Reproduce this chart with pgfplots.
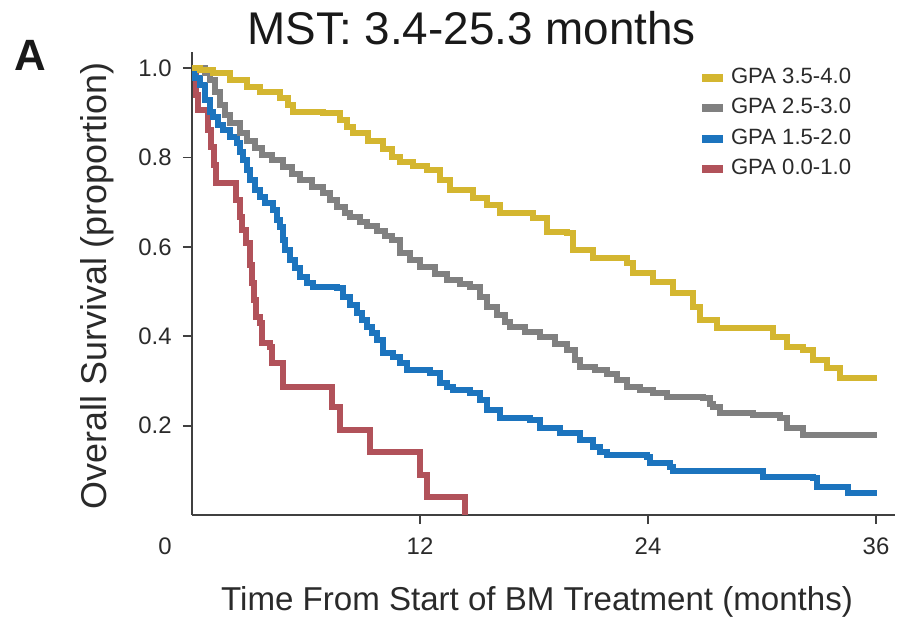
\documentclass[border=0pt]{standalone}
\usepackage{fontspec}
\setmainfont{Liberation Sans}
\usepackage{pgfplots}
\pgfplotsset{compat=1.18}

\definecolor{gpaYellow}{HTML}{D4B630}
\definecolor{gpaGray}{HTML}{808080}
\definecolor{gpaBlue}{HTML}{1C74BE}
\definecolor{gpaRed}{HTML}{B1525A}
\definecolor{inkgray}{HTML}{2A2A2A}

\begin{document}
\begin{tikzpicture}
\begin{axis}[
  scale only axis, width=351.5bp, height=231.5bp,
  xmin=0, xmax=37, ymin=0, ymax=1.036,
  axis x line=bottom, axis y line=left,
  axis line style={-, line width=0.9bp, color=black!75},
  clip=false,
  xtick={12,24,36}, xticklabels={12,24,36},
  ytick={0.2,0.4,0.6,0.8,1.0}, yticklabels={0.2,0.4,0.6,0.8,1.0},
  extra x ticks={0}, extra x tick labels={0},
  extra x tick style={tick style={draw=none}, xticklabel style={xshift=-13.5bp}},
  tick align=outside, major tick length=4.5bp,
  tick style={line width=0.9bp, color=black!75},
  ticklabel style={font=\fontsize{12}{14}\selectfont, text=inkgray},
  yticklabel style={xshift=-2.2bp},
  xticklabel style={yshift=-3.5bp},
  xlabel={Time From Start of BM Treatment (months)},
  every axis x label/.style={at={(axis description cs:0.4908,-0.1870)}, anchor=center, inner sep=0pt},
  xlabel style={font=\fontsize{16.6}{19}\selectfont, text=inkgray},
  ylabel={Overall Survival (proportion)},
  every axis y label/.style={at={(axis description cs:-0.135,0.495)}, rotate=90, anchor=center, inner sep=0pt},
  ylabel style={font=\fontsize{18}{20}\selectfont, text=inkgray},
  legend style={at={(axis description cs:0.7198,0.966)}, anchor=north west,
    draw=none, fill=none, inner sep=0pt, outer sep=0pt,
    font=\fontsize{11.1}{12}\selectfont, text=inkgray, row sep=4.6bp,
    nodes={inner sep=0pt, text height=8bp, text depth=2.5bp},
    /tikz/every odd column/.append style={column sep=2bp}},
  legend cell align=left,
  reverse legend,
  legend image code/.code={\draw[#1, line width=4bp] (0bp,0bp) -- (10.5bp,0bp);},
]

% GPA 0.0-1.0
\addplot[const plot, color=gpaRed, line width=3bp] coordinates {
(0,1.0) (0.21,0.94) (0.32,0.906) (0.84,0.861) (1.0,0.823) (1.16,0.783)
(1.26,0.743) (2.3,0.705) (2.53,0.667) (2.63,0.638) (2.84,0.609) (3.05,0.559)
(3.16,0.519) (3.26,0.481) (3.37,0.443) (3.58,0.430) (3.68,0.385) (4.10,0.376)
(4.21,0.340) (4.79,0.286) (7.37,0.242) (7.79,0.190) (9.37,0.141) (12.00,0.089)
(12.37,0.040) (14.37,0.0)
};
\addlegendentry{GPA 0.0-1.0}

% GPA 1.5-2.0
\addplot[const plot, color=gpaBlue, line width=3bp] coordinates {
(0,1.000) (0.16,0.978) (0.42,0.962) (0.68,0.928) (0.95,0.902) (1.11,0.890)
(1.37,0.872) (1.63,0.861) (2.00,0.846) (2.37,0.832) (2.53,0.812) (2.68,0.794)
(2.89,0.772) (3.05,0.749) (3.32,0.727) (3.58,0.711) (3.84,0.698) (4.26,0.682)
(4.47,0.660) (4.63,0.644) (4.79,0.615) (4.89,0.593) (5.16,0.570) (5.42,0.553)
(5.68,0.532) (6.05,0.519) (6.37,0.510) (7.63,0.508) (7.95,0.488) (8.32,0.470)
(8.68,0.452) (8.95,0.436) (9.21,0.421) (9.47,0.407) (9.74,0.391) (10.05,0.362)
(10.58,0.353) (10.95,0.340) (11.32,0.324) (12.53,0.318) (13.05,0.295) (13.42,0.286)
(13.74,0.280) (14.63,0.273) (15.16,0.257) (15.53,0.235) (16.21,0.217) (17.79,0.213)
(18.32,0.195) (19.37,0.183) (20.42,0.168) (21.11,0.152) (21.47,0.141) (21.84,0.134)
(23.95,0.130) (24.11,0.116) (25.16,0.107) (25.32,0.098) (29.89,0.098) (30.05,0.085)
(32.68,0.083) (32.89,0.063) (34.47,0.063) (34.53,0.049) (36.05,0.049)
};
\addlegendentry{GPA 1.5-2.0}

% GPA 2.5-3.0
\addplot[const plot, color=gpaGray, line width=3bp] coordinates {
(0,1.000) (0.68,0.989) (0.95,0.973) (1.21,0.946) (1.47,0.917) (1.74,0.895)
(2.00,0.877) (2.53,0.855) (2.89,0.837) (3.32,0.821) (3.68,0.805) (4.21,0.794)
(4.79,0.779) (5.26,0.763) (5.68,0.749) (6.32,0.734) (6.89,0.720) (7.26,0.705)
(7.63,0.689) (8.05,0.676) (8.32,0.667) (8.84,0.655) (9.21,0.647) (9.74,0.635)
(10.16,0.624) (10.53,0.615) (10.95,0.586) (11.47,0.570) (12.00,0.555) (12.79,0.539)
(13.42,0.526) (14.11,0.517) (14.63,0.510) (15.16,0.488) (15.53,0.465) (16.05,0.447)
(16.47,0.432) (16.74,0.421) (17.53,0.409) (18.32,0.398) (19.11,0.383) (19.74,0.369)
(20.16,0.347) (20.42,0.331) (21.21,0.324) (21.84,0.315) (22.37,0.302) (22.89,0.286)
(23.58,0.280) (24.26,0.273) (25.00,0.264) (26.89,0.262) (27.26,0.248) (27.42,0.242)
(27.79,0.228) (29.53,0.224) (30.95,0.217) (31.32,0.195) (32.16,0.179) (36.05,0.179)
};
\addlegendentry{GPA 2.5-3.0}

% GPA 3.5-4.0
\addplot[const plot, color=gpaYellow, line width=3bp] coordinates {
(0,1.000) (0.42,0.996) (1.11,0.989) (2.00,0.973) (2.89,0.957) (3.58,0.946)
(4.63,0.934) (5.05,0.917) (5.32,0.902) (6.89,0.899) (7.79,0.884) (8.16,0.868)
(8.47,0.855) (9.26,0.837) (10.05,0.819) (10.53,0.801) (10.95,0.790) (11.63,0.781)
(12.37,0.772) (13.05,0.749) (13.58,0.727) (14.79,0.709) (15.53,0.694) (16.21,0.676)
(17.95,0.664) (18.68,0.633) (19.74,0.631) (20.05,0.593) (21.11,0.575) (22.89,0.564)
(23.21,0.541) (24.26,0.521) (25.32,0.497) (26.37,0.465) (26.74,0.436) (27.63,0.418)
(30.58,0.398) (31.32,0.376) (32.16,0.369) (32.68,0.347) (33.42,0.329) (34.11,0.306)
(36.05,0.306)
};
\addlegendentry{GPA 3.5-4.0}

% title and panel letter
\node[inner sep=0pt, font=\fontsize{23}{26}\selectfont, text=black!90]
  at (axis description cs:0.398,1.0518) {MST: 3.4-25.3 months};
\node[inner sep=0pt, font=\bfseries\fontsize{22}{26}\selectfont, text=black!90]
  at (axis description cs:-0.2304,0.9935) {A};

% page frame corners
\coordinate (frameSW) at (axis description cs:-0.2731,-0.2268);
\coordinate (frameNE) at (axis description cs:1.0028,1.1123);
\end{axis}
\pgfresetboundingbox
\path[use as bounding box] (frameSW) rectangle (frameNE);
\end{tikzpicture}
\end{document}
